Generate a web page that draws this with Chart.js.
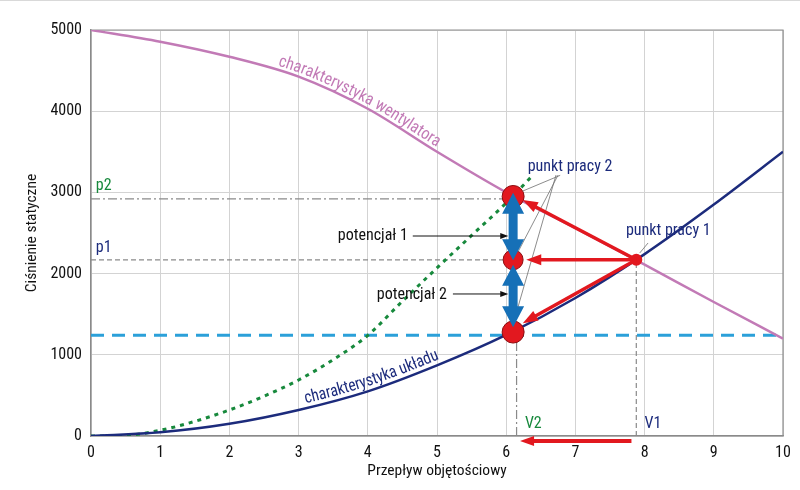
<!DOCTYPE html>
<html>
<head>
<meta charset="utf-8">
<script src="https://cdn.jsdelivr.net/npm/chart.js@4.4.1/dist/chart.umd.min.js"></script>
<style>
  html, body { margin: 0; padding: 0; background: #ffffff; }
  #wrap { width: 800px; height: 490px; position: relative; }
</style>
</head>
<body>
<div id="wrap"><canvas id="c"></canvas></div>
<script>
// ---------------- DATA ----------------
const flow = [0, 1, 2, 3, 4, 5, 6, 7, 8, 9, 10];
const fanPressure = [5000, 4856, 4670, 4425, 4030, 3500, 3000, 2560, 2110, 1650, 1200];
const systemPressure = [0, 45, 150, 320, 550, 870, 1245, 1700, 2240, 2850, 3500];
const throttledFlow = [0, 0.5, 1, 1.5, 2, 2.5, 3, 3.5, 4, 4.5, 5, 5.5, 6, 6.35];
const throttledPressure = [0, 8, 70, 180, 320, 490, 690, 940, 1240, 1660, 2070, 2470, 2870, 3180];
const pointFlow = [6.1, 6.1, 6.1, 7.88];
const pointPressure = [2950, 2170, 1280, 2170];
const levelP2 = 2920;
const levelP1 = 2170;
const levelTarget = 1240;
const flowV2 = 6.15;
const flowV1 = 7.88;
const xTicks = [0, 1, 2, 3, 4, 5, 6, 7, 8, 9, 10];
const yTicks = [0, 1000, 2000, 3000, 4000, 5000];

// ---------------- FONT ----------------
function pickFont(list) {
  const c = document.createElement('canvas').getContext('2d');
  for (const f of list) {
    let ok = true;
    for (const base of ['monospace', 'serif']) {
      c.font = '40px "' + f + '", ' + base;
      const w1 = c.measureText('Przepływ objętościowy 123').width;
      c.font = '40px ' + base;
      const w2 = c.measureText('Przepływ objętościowy 123').width;
      if (w1 === w2) ok = false;
    }
    if (ok) return f;
  }
  return 'Liberation Sans';
}
const FONT = pickFont(['Roboto Condensed', 'DejaVu Sans Condensed', 'Liberation Sans']);

const COL = {
  pink: '#c27ab6', navy: '#1c2b7c', green: '#17893c', cyan: '#2ba0d9',
  red: '#e2181f', blue: '#1670b7', grey: '#8a8a8a', text: '#111111'
};

const xy = (xs, ys) => xs.map((x, i) => ({ x: x, y: ys[i] }));

// ---------------- ANNOTATION GEOMETRY (data units) ----------------
const blueArrows = [[6.1, 2995, 6.1, 2165], [6.1, 2110, 6.1, 1340]];
const redArrows = [[7.88, 2170, 6.24, 2905], [7.88, 2170, 6.29, 2172], [7.88, 2170, 6.24, 1390]];
const leaders = [[6.78, 3210, 6.24, 3017], [6.75, 3214, 6.17, 2266], [6.72, 3214, 6.1, 1379], [8.05, 2377, 7.93, 2254]];

function arrowHead(ctx, x1, y1, x2, y2, len, wid, color) {
  const a = Math.atan2(y2 - y1, x2 - x1);
  ctx.save();
  ctx.translate(x2, y2); ctx.rotate(a);
  ctx.beginPath(); ctx.moveTo(0, 0); ctx.lineTo(-len, wid / 2); ctx.lineTo(-len, -wid / 2); ctx.closePath();
  ctx.fillStyle = color; ctx.fill();
  ctx.restore();
}
function lineArrow(ctx, x1, y1, x2, y2, lw, color, len, wid) {
  const a = Math.atan2(y2 - y1, x2 - x1);
  ctx.save();
  ctx.strokeStyle = color; ctx.lineWidth = lw; ctx.lineCap = 'butt';
  ctx.beginPath(); ctx.moveTo(x1, y1); ctx.lineTo(x2 - Math.cos(a) * len * 0.8, y2 - Math.sin(a) * len * 0.8); ctx.stroke();
  ctx.restore();
  arrowHead(ctx, x1, y1, x2, y2, len, wid, color);
}
function doubleArrow(ctx, x, y1, y2, shaft, headW, headL, color) {
  ctx.save();
  ctx.fillStyle = color;
  ctx.beginPath();
  ctx.moveTo(x, y1);
  ctx.lineTo(x + headW / 2, y1 + headL);
  ctx.lineTo(x + shaft / 2, y1 + headL);
  ctx.lineTo(x + shaft / 2, y2 - headL);
  ctx.lineTo(x + headW / 2, y2 - headL);
  ctx.lineTo(x, y2);
  ctx.lineTo(x - headW / 2, y2 - headL);
  ctx.lineTo(x - shaft / 2, y2 - headL);
  ctx.lineTo(x - shaft / 2, y1 + headL);
  ctx.lineTo(x - headW / 2, y1 + headL);
  ctx.closePath();
  ctx.fill();
  ctx.restore();
}

function curvePolyline(meta) {
  const pts = meta.data, out = [];
  for (let i = 0; i < pts.length - 1; i++) {
    const p0 = pts[i], p1 = pts[i + 1];
    const c1x = p0.cp2x ?? p0.x, c1y = p0.cp2y ?? p0.y, c2x = p1.cp1x ?? p1.x, c2y = p1.cp1y ?? p1.y;
    for (let s = 0; s < 30; s++) {
      const t = s / 30, u = 1 - t;
      out.push({
        x: u*u*u*p0.x + 3*u*u*t*c1x + 3*u*t*t*c2x + t*t*t*p1.x,
        y: u*u*u*p0.y + 3*u*u*t*c1y + 3*u*t*t*c2y + t*t*t*p1.y
      });
    }
  }
  const last = pts[pts.length - 1]; out.push({ x: last.x, y: last.y });
  let d = 0; out[0].d = 0;
  for (let i = 1; i < out.length; i++) { d += Math.hypot(out[i].x - out[i-1].x, out[i].y - out[i-1].y); out[i].d = d; }
  return out;
}
function distAtX(poly, px) {
  for (let i = 1; i < poly.length; i++) {
    if (poly[i].x >= px) {
      const t = (px - poly[i-1].x) / (poly[i].x - poly[i-1].x || 1);
      return poly[i-1].d + t * (poly[i].d - poly[i-1].d);
    }
  }
  return poly[poly.length - 1].d;
}
function posAtDist(poly, d) {
  for (let i = 1; i < poly.length; i++) {
    if (poly[i].d >= d) {
      const t = (d - poly[i-1].d) / (poly[i].d - poly[i-1].d || 1);
      return { x: poly[i-1].x + t * (poly[i].x - poly[i-1].x), y: poly[i-1].y + t * (poly[i].y - poly[i-1].y),
               a: Math.atan2(poly[i].y - poly[i-1].y, poly[i].x - poly[i-1].x) };
    }
  }
  const n = poly.length; return { x: poly[n-1].x, y: poly[n-1].y, a: 0 };
}
function textOnCurve(ctx, chart, dsIndex, text, xStart, xEnd, gap, size, color) {
  const sx = chart.scales.x;
  const poly = curvePolyline(chart.getDatasetMeta(dsIndex));
  const d0 = distAtX(poly, sx.getPixelForValue(xStart));
  const d1 = distAtX(poly, sx.getPixelForValue(xEnd));
  ctx.save();
  ctx.font = size + 'px "' + FONT + '"';
  const total = ctx.measureText(text).width;
  const k = (d1 - d0) / total;
  let d = d0;
  ctx.fillStyle = color; ctx.textAlign = 'center'; ctx.textBaseline = 'alphabetic';
  for (const ch of text) {
    const w = ctx.measureText(ch).width * k;
    const p = posAtDist(poly, d + w / 2);
    ctx.save();
    ctx.translate(p.x, p.y); ctx.rotate(p.a);
    ctx.scale(k, 1);
    ctx.fillText(ch, 0, -gap);
    ctx.restore();
    d += w;
  }
  ctx.restore();
}

const overlay = {
  id: 'overlay',
  beforeDatasetsDraw(chart) {
    const { ctx, chartArea: a } = chart;
    ctx.save();
    ctx.strokeStyle = '#8f8f8f'; ctx.lineWidth = 1.2;
    ctx.beginPath(); ctx.moveTo(a.left, a.top); ctx.lineTo(a.right, a.top); ctx.lineTo(a.right, a.bottom); ctx.stroke();
    ctx.strokeStyle = '#d9d9d9'; ctx.lineWidth = 1;
    ctx.beginPath(); ctx.moveTo(0, 0.5); ctx.lineTo(chart.width, 0.5); ctx.stroke();
    ctx.restore();
  },
  afterDatasetsDraw(chart) {
    const { ctx, chartArea: a } = chart;
    const X = v => chart.scales.x.getPixelForValue(v);
    const Y = v => chart.scales.y.getPixelForValue(v);
    // leader lines
    ctx.save();
    ctx.strokeStyle = '#6f6f6f'; ctx.lineWidth = 0.8;
    for (const l of leaders) { ctx.beginPath(); ctx.moveTo(X(l[0]), Y(l[1])); ctx.lineTo(X(l[2]), Y(l[3])); ctx.stroke(); }
    ctx.restore();
    // red arrows
    for (const r of redArrows) lineArrow(ctx, X(r[0]), Y(r[1]), X(r[2]), Y(r[3]), 3.5, COL.red, 15, 11);
    // blue double arrows
    for (const b of blueArrows) doubleArrow(ctx, X(b[0]), Y(b[1]), Y(b[3]), 9, 22, 21, COL.blue);
    // bottom red arrow (below axis)
    lineArrow(ctx, X(7.81), a.bottom + 5, X(6.2), a.bottom + 5, 4, COL.red, 14, 10);
    // potencjal arrows
    lineArrow(ctx, X(4.65), Y(2463), X(6.03), Y(2463), 1, '#111', 8, 6);
    lineArrow(ctx, X(5.23), Y(1749), X(6.03), Y(1749), 1, '#111', 8, 6);
    // texts
    ctx.save();
    ctx.textBaseline = 'alphabetic';
    ctx.font = '16px "' + FONT + '"';
    ctx.fillStyle = COL.navy; ctx.textAlign = 'left';
    ctx.fillText('punkt pracy 2', X(6.31), Y(3264));
    ctx.fillText('punkt pracy 1', X(7.73), Y(2475));
    ctx.fillText('p1', X(0.07), Y(2266));
    ctx.fillText('V1', X(8.0), Y(100));
    ctx.fillStyle = COL.green;
    ctx.fillText('p2', X(0.07), Y(3030));
    ctx.fillText('V2', X(6.27), Y(100));
    ctx.fillStyle = '#111';
    ctx.textAlign = 'right';
    ctx.fillText('potencjał 1', X(4.58), Y(2414));
    ctx.textAlign = 'left';
    ctx.fillText('potencjał 2', X(4.13), Y(1687));
    ctx.restore();
    // curve labels
    textOnCurve(ctx, chart, 0, 'charakterystyka wentylatora', 2.68, 4.96, 4, 17, COL.pink);
    textOnCurve(ctx, chart, 1, 'charakterystyka układu', 3.12, 5.06, 5, 17, COL.navy);
  }
};

const tickFont = { family: FONT, size: 16 };

new Chart(document.getElementById('c'), {
  type: 'scatter',
  data: {
    datasets: [
      { data: xy(flow, fanPressure), showLine: true, borderColor: COL.pink, borderWidth: 2.5, pointRadius: 0, cubicInterpolationMode: 'monotone', order: 5 },
      { data: xy(flow, systemPressure), showLine: true, borderColor: COL.navy, borderWidth: 2.5, pointRadius: 0, cubicInterpolationMode: 'monotone', order: 4 },
      { data: xy(throttledFlow, throttledPressure), showLine: true, borderColor: COL.green, borderWidth: 3, borderDash: [4, 5], pointRadius: 0, cubicInterpolationMode: 'monotone', order: 6 },
      { data: xy([0, 10], [levelTarget, levelTarget]), showLine: true, borderColor: COL.cyan, borderWidth: 3, borderDash: [13, 8], pointRadius: 0, order: 7 },
      { data: xy([0, pointFlow[0]], [levelP2, levelP2]), showLine: true, borderColor: COL.grey, borderWidth: 1.2, borderDash: [9, 3, 2, 3], pointRadius: 0, order: 8 },
      { data: xy([0, pointFlow[1]], [levelP1, levelP1]), showLine: true, borderColor: COL.grey, borderWidth: 1.2, borderDash: [5, 3], pointRadius: 0, order: 8 },
      { data: xy([flowV2, flowV2], [0, pointPressure[2]]), showLine: true, borderColor: COL.grey, borderWidth: 1.2, borderDash: [9, 3, 2, 3], pointRadius: 0, order: 8 },
      { data: xy([flowV1, flowV1], [0, pointPressure[3]]), showLine: true, borderColor: COL.grey, borderWidth: 1.2, borderDash: [5, 3], pointRadius: 0, order: 8 },
      { data: xy(pointFlow, pointPressure), showLine: false, pointRadius: [11, 10, 11, 6], pointBackgroundColor: COL.red, pointBorderColor: '#8c0d10', pointBorderWidth: [1, 1, 1, 0], order: 1, clip: false }
    ]
  },
  options: {
    responsive: true, maintainAspectRatio: false, animation: false,
    layout: { padding: { top: 30, right: 17, left: 0, bottom: 0 } },
    plugins: { legend: { display: false }, tooltip: { enabled: false } },
    scales: {
      x: {
        type: 'linear', min: 0, max: 10,
        afterBuildTicks: s => { s.ticks = xTicks.map(v => ({ value: v })); },
        afterFit: s => { s.height = 54; },
        ticks: { font: tickFont, color: COL.text, padding: 7, callback: v => String(v) },
        grid: { color: '#d3d3d3', lineWidth: 1, drawTicks: false },
        border: { color: '#8a8a8a', width: 1.5 },
        title: { display: true, text: 'Przepływ objętościowy', font: { family: FONT, size: 15.5 }, color: COL.text, padding: { top: 0, bottom: 10 } }
      },
      y: {
        type: 'linear', min: 0, max: 5000,
        afterBuildTicks: s => { s.ticks = yTicks.map(v => ({ value: v })); },
        afterFit: s => { s.width = 91; },
        ticks: { font: tickFont, color: COL.text, padding: 9, callback: v => String(v) },
        grid: { color: '#d3d3d3', lineWidth: 1, drawTicks: false },
        border: { color: '#8a8a8a', width: 1.5 },
        title: { display: true, text: 'Ciśnienie statyczne', font: { family: FONT, size: 15.5 }, color: COL.text, padding: { top: 23, bottom: 0 } }
      }
    }
  },
  plugins: [overlay]
});
</script>
</body>
</html>
